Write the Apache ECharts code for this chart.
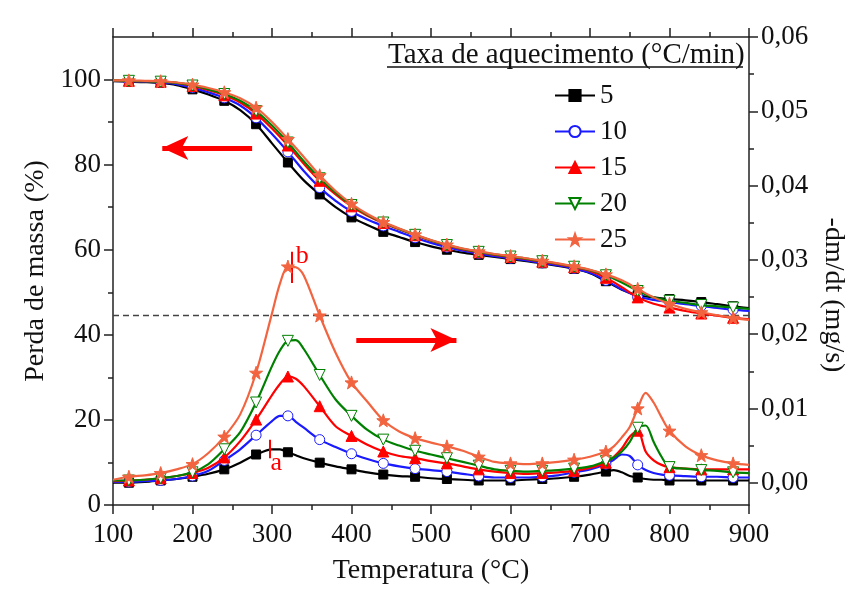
<!DOCTYPE html>
<html>
<head>
<meta charset="utf-8">
<script src="https://cdn.jsdelivr.net/npm/echarts@6/dist/echarts.min.js"></script>
<style>
  html, body { margin: 0; padding: 0; background: #fff; }
  #chart { width: 861px; height: 610px; }
</style>
</head>
<body>
<div id="chart"></div>
<script>
// heating rates (°C/min)
const rates = ["5", "10", "15", "20", "25"];

// TG: mass (%) vs temperature
const tgTemps = [100, 120, 140, 160, 180, 200, 220, 240, 260, 280, 300, 320, 340, 360, 380, 400, 420, 440, 460, 480, 500,
  520, 540, 560, 580, 600, 620, 640, 660, 680, 700, 720, 740, 760, 780, 800, 820, 840, 860, 880, 900];
const tg5 = [99.6, 99.5, 99.4, 99.2, 98.7, 97.7, 96.5, 95.0, 92.8, 89.5, 85.0, 80.5, 76.3, 73.0, 70.0, 67.6, 65.8, 64.2, 63.0, 61.8, 60.8,
  60.0, 59.3, 58.8, 58.3, 57.8, 57.3, 56.8, 56.2, 55.5, 54.5, 52.6, 50.6, 49.3, 48.8, 48.4, 48.1, 47.7, 47.2, 46.7, 46.3];
const tg10 = [99.7, 99.6, 99.5, 99.3, 98.9, 98.1, 97.0, 95.7, 93.9, 91.0, 87.2, 83.0, 78.5, 74.6, 71.5, 69.0, 67.1, 65.6, 64.2, 62.8, 61.6,
  60.6, 59.8, 59.1, 58.5, 58.0, 57.5, 56.9, 56.3, 55.6, 54.6, 52.8, 50.7, 49.0, 48.2, 47.7, 47.2, 46.8, 46.3, 45.9, 45.6];
const tg15 = [99.8, 99.7, 99.6, 99.5, 99.2, 98.5, 97.5, 96.3, 94.6, 92.0, 88.5, 84.5, 80.2, 76.2, 73.0, 70.2, 68.0, 66.3, 64.8, 63.4, 62.1,
  61.0, 60.1, 59.4, 58.8, 58.3, 57.8, 57.2, 56.6, 55.9, 55.0, 53.4, 51.2, 48.8, 47.3, 46.4, 45.6, 45.0, 44.5, 44.0, 43.7];
const tg20 = [99.8, 99.7, 99.6, 99.5, 99.2, 98.6, 97.7, 96.6, 95.0, 92.6, 89.2, 85.2, 80.8, 76.8, 73.4, 70.5, 68.2, 66.4, 64.9, 63.5, 62.2,
  61.1, 60.2, 59.5, 58.9, 58.4, 57.9, 57.3, 56.7, 56.0, 55.2, 54.0, 52.3, 50.3, 48.8, 48.0, 47.5, 47.0, 46.7, 46.4, 46.1];
const tg25 = [99.8, 99.8, 99.7, 99.6, 99.3, 98.8, 98.0, 97.0, 95.6, 93.4, 90.0, 86.0, 81.8, 77.5, 73.8, 70.8, 68.4, 66.5, 65.0, 63.6, 62.3,
  61.2, 60.3, 59.6, 59.0, 58.5, 58.0, 57.4, 56.8, 56.1, 55.3, 54.2, 52.8, 50.8, 48.8, 47.3, 46.1, 45.3, 44.6, 44.0, 43.5];

// DTG: -dm/dt (mg/s) vs temperature
const dtgTemps = [100, 120, 140, 160, 180, 200, 220, 240, 260, 280, 300, 310, 320, 330, 340, 360, 380, 400, 420, 440, 460, 480, 500,
  520, 540, 560, 580, 600, 620, 640, 660, 680, 700, 720, 730, 740, 750, 760, 770, 780, 790, 800, 820, 840, 860, 880, 900];
const dtg5 = [0.0000, 0.0000, 0.0001, 0.0003, 0.0005, 0.0008, 0.0012, 0.0018, 0.0027, 0.0038, 0.0045, 0.0045, 0.0041, 0.0037, 0.0033,
  0.0027, 0.0022, 0.0018, 0.0014, 0.0011, 0.0009, 0.0008, 0.0006, 0.0005, 0.0004, 0.0003, 0.0003, 0.0003, 0.0004, 0.0005, 0.0006,
  0.0008, 0.0011, 0.0015, 0.0017, 0.0014, 0.0009, 0.0007, 0.0005, 0.0004, 0.0004, 0.0003, 0.0003, 0.0003, 0.0003, 0.0003, 0.0003];
const dtg10 = [0.0001, 0.0001, 0.0002, 0.0003, 0.0005, 0.0009, 0.0016, 0.0030, 0.0045, 0.0064, 0.0083, 0.0090, 0.0090, 0.0082, 0.0074,
  0.0058, 0.0048, 0.0039, 0.0032, 0.0026, 0.0022, 0.0019, 0.0017, 0.0015, 0.0012, 0.0009, 0.0007, 0.0007, 0.0007, 0.0008, 0.0010,
  0.0014, 0.0018, 0.0025, 0.0031, 0.0038, 0.0036, 0.0024, 0.0017, 0.0013, 0.0011, 0.0010, 0.0009, 0.0008, 0.0008, 0.0007, 0.0007];
const dtg15 = [0.0002, 0.0003, 0.0004, 0.0006, 0.0009, 0.0013, 0.0020, 0.0034, 0.0056, 0.0085, 0.0118, 0.0133, 0.0143, 0.0140, 0.0130,
  0.0103, 0.0076, 0.0063, 0.0051, 0.0042, 0.0036, 0.0033, 0.0029, 0.0026, 0.0022, 0.0018, 0.0015, 0.0013, 0.0012, 0.0013, 0.0014,
  0.0016, 0.0020, 0.0027, 0.0035, 0.0046, 0.0062, 0.0070, 0.0042, 0.0030, 0.0024, 0.0021, 0.0019, 0.0018, 0.0018, 0.0018, 0.0018];
const dtg20 = [0.0003, 0.0003, 0.0004, 0.0006, 0.0009, 0.0014, 0.0025, 0.0045, 0.0068, 0.0108, 0.0157, 0.0178, 0.0191, 0.0192, 0.0180,
  0.0145, 0.0112, 0.0090, 0.0071, 0.0058, 0.0050, 0.0043, 0.0038, 0.0033, 0.0028, 0.0023, 0.0018, 0.0016, 0.0015, 0.0016, 0.0017,
  0.0019, 0.0022, 0.0029, 0.0034, 0.0042, 0.0055, 0.0074, 0.0077, 0.0055, 0.0035, 0.0021, 0.0019, 0.0017, 0.0016, 0.0014, 0.0013];
const dtg25 = [0.0004, 0.0008, 0.0010, 0.0013, 0.0018, 0.0025, 0.0040, 0.0062, 0.0092, 0.0148, 0.0228, 0.0268, 0.0291, 0.0290, 0.0279,
  0.0225, 0.0175, 0.0135, 0.0109, 0.0084, 0.0069, 0.0060, 0.0054, 0.0049, 0.0043, 0.0035, 0.0028, 0.0026, 0.0025, 0.0026, 0.0028,
  0.0031, 0.0035, 0.0042, 0.0049, 0.0061, 0.0075, 0.0100, 0.0121, 0.0108, 0.0088, 0.0070, 0.0049, 0.0037, 0.0030, 0.0026, 0.0024];

// axis ticks
const massTicks = [0, 20, 40, 60, 80, 100];
const massMinor = [10, 30, 50, 70, 90];
const rateTicks = [0, 0.01, 0.02, 0.03, 0.04, 0.05, 0.06];
const rateMinor = [0.005, 0.015, 0.025, 0.035, 0.045, 0.055];

const tgSets = [tg5, tg10, tg15, tg20, tg25];
const dtgSets = [dtg5, dtg10, dtg15, dtg20, dtg25];

const serif = "Liberation Serif";
const colors = ["#000000", "#1a1aff", "#ff0000", "#008000", "#f26440"];
const looks = [
  { symbol: "rect", size: 9, fill: colors[0], rotate: 0 },
  { symbol: "circle", size: 10, fill: "#ffffff", rotate: 0 },
  { symbol: "triangle", size: 11, fill: colors[2], rotate: 0 },
  { symbol: "triangle", size: 11, fill: "#ffffff", rotate: 180 },
  { symbol: "path://M0,-10 L2.35,-3.24 L9.51,-3.09 L3.8,1.24 L5.88,8.09 L0,4 L-5.88,8.09 L-3.8,1.24 L-9.51,-3.09 L-2.35,-3.24 Z", size: 13, fill: colors[4], rotate: 0 }
];

function makeSeries(i, temps, vals, yIdx, every) {
  const lk = looks[i];
  return {
    name: rates[i],
    type: "line",
    yAxisIndex: yIdx,
    smooth: 0.3,
    showAllSymbol: true,
    symbol: lk.symbol,
    symbolSize: lk.size,
    symbolRotate: lk.rotate,
    z: 3 + i,
    lineStyle: { color: colors[i], width: 2.2 },
    itemStyle: { color: lk.fill, borderColor: colors[i], borderWidth: 1 },
    data: temps.map((t, k) => {
      const item = { value: [t, vals[k]] };
      if (!every(t)) item.symbol = "none";
      return item;
    })
  };
}

const series = [];
for (let i = 0; i < rates.length; i++) {
  series.push(makeSeries(i, tgTemps, tgSets[i], 0, t => (t - 100) % 40 === 20));
  series.push(makeSeries(i, dtgTemps, dtgSets[i], 1, t => (t - 100) % 40 === 20));
}

// dashed reference line and arrows
series.push({
  type: "line",
  yAxisIndex: 0,
  data: [],
  silent: true,
  markLine: {
    silent: true,
    animation: false,
    label: { show: false },
    symbol: ["none", "none"],
    data: [
      [{ coord: [100, 44.5], lineStyle: { type: [6, 4], color: "#444", width: 1.3 } },
       { coord: [900, 44.5] }],
      [{ coord: [275, 83.9], symbol: "none", lineStyle: { color: "#ff0000", width: 5, type: "solid" } },
       { coord: [162, 83.9], symbol: "arrow", symbolSize: [18, 26] }],
      [{ coord: [406, 38.8], symbol: "none", lineStyle: { color: "#ff0000", width: 5, type: "solid" } },
       { coord: [532, 38.8], symbol: "arrow", symbolSize: [18, 26] }]
    ]
  }
});

// peak marks a / b
series.push({
  type: "line",
  yAxisIndex: 1,
  data: [],
  silent: true,
  markLine: {
    silent: true,
    animation: false,
    label: { show: false },
    symbol: ["none", "none"],
    lineStyle: { color: "#ff0000", width: 2, type: "solid" },
    data: [
      [{ coord: [297.7, 0.0058] }, { coord: [297.7, 0.0033] }],
      [{ coord: [325.4, 0.0311] }, { coord: [325.4, 0.0269] }]
    ]
  },
  markPoint: {
    silent: true,
    animation: false,
    symbol: "circle",
    symbolSize: 1,
    itemStyle: { color: "rgba(0,0,0,0)" },
    label: { show: true, color: "#ff0000", fontFamily: serif, fontSize: 26, formatter: p => p.name },
    data: [
      { name: "a", coord: [305.3, 0.00265] },
      { name: "b", coord: [338, 0.0305] }
    ]
  }
});

const axisLineStyle = { color: "#222", width: 1.5 };
const tickFont = { fontFamily: serif, fontSize: 27, color: "#111" };
const nameFont = { fontFamily: serif, fontSize: 28, color: "#111" };

const option = {
  animation: false,
  backgroundColor: "#ffffff",
  grid: { left: 113, right: 112, top: 37, bottom: 105 },
  title: {
    text: "Taxa de aquecimento (°C/min)",
    left: 383,
    top: 36,
    textStyle: { fontFamily: serif, fontSize: 29, fontWeight: "normal", color: "#111" }
  },
  legend: {
    orient: "vertical",
    left: 549,
    top: 77,
    itemWidth: 40,
    itemHeight: 14,
    itemGap: 9,
    data: rates,
    textStyle: { fontFamily: serif, fontSize: 27, color: "#111", lineHeight: 26 }
  },
  graphic: [
    { type: "line", shape: { x1: 387, y1: 67, x2: 743, y2: 67 }, style: { stroke: "#111", lineWidth: 1.5 } }
  ],
  xAxis: [
    {
      type: "value", min: 100, max: 900, interval: 100,
      name: "Temperatura (°C)", nameLocation: "middle", nameGap: 52, nameTextStyle: nameFont,
      axisLine: { onZero: false, lineStyle: axisLineStyle },
      axisTick: { length: 9, lineStyle: axisLineStyle },
      minorTick: { show: true, splitNumber: 2, length: 5, lineStyle: { color: "#222", width: 1.5 } },
      axisLabel: Object.assign({ margin: 16 }, tickFont),
      splitLine: { show: false }
    },
    {
      type: "value", min: 100, max: 900, interval: 100, position: "top",
      axisLine: { onZero: false, lineStyle: axisLineStyle },
      axisTick: { length: 9, lineStyle: axisLineStyle },
      minorTick: { show: true, splitNumber: 2, length: 5, lineStyle: { color: "#222", width: 1.5 } },
      axisLabel: { show: false },
      splitLine: { show: false }
    }
  ],
  yAxis: [
    {
      type: "value", min: 0, max: 110, position: "left",
      name: "Perda de massa (%)", nameLocation: "middle", nameGap: 60, nameTextStyle: nameFont,
      axisLine: { show: true, onZero: false, lineStyle: axisLineStyle },
      axisTick: { show: true, length: 9, customValues: massTicks, lineStyle: axisLineStyle },
      axisLabel: Object.assign({ margin: 12, customValues: massTicks }, tickFont),
      splitLine: { show: false }
    },
    {
      type: "value", min: -0.003, max: 0.06, position: "right",
      name: "-dm/dt (mg/s)", nameLocation: "middle", nameRotate: -90, nameGap: 67,
      nameTextStyle: Object.assign({ padding: [0, 0, 0, 48] }, nameFont),
      axisLine: { show: true, onZero: false, lineStyle: axisLineStyle },
      axisTick: { show: true, length: 9, customValues: rateTicks, lineStyle: axisLineStyle },
      axisLabel: Object.assign({ margin: 12, customValues: rateTicks, formatter: v => v.toFixed(2).replace(".", ",") }, tickFont),
      splitLine: { show: false }
    },
    {
      type: "value", min: 0, max: 110, position: "left",
      axisLine: { show: false, onZero: false },
      axisTick: { show: true, length: 5, customValues: massMinor, lineStyle: axisLineStyle },
      axisLabel: { show: false },
      splitLine: { show: false }
    },
    {
      type: "value", min: -0.003, max: 0.06, position: "right",
      axisLine: { show: false, onZero: false },
      axisTick: { show: true, length: 5, customValues: rateMinor, lineStyle: axisLineStyle },
      axisLabel: { show: false },
      splitLine: { show: false }
    }
  ],
  series: series
};

const chart = echarts.init(document.getElementById("chart"));
chart.setOption(option);
</script>
</body>
</html>
